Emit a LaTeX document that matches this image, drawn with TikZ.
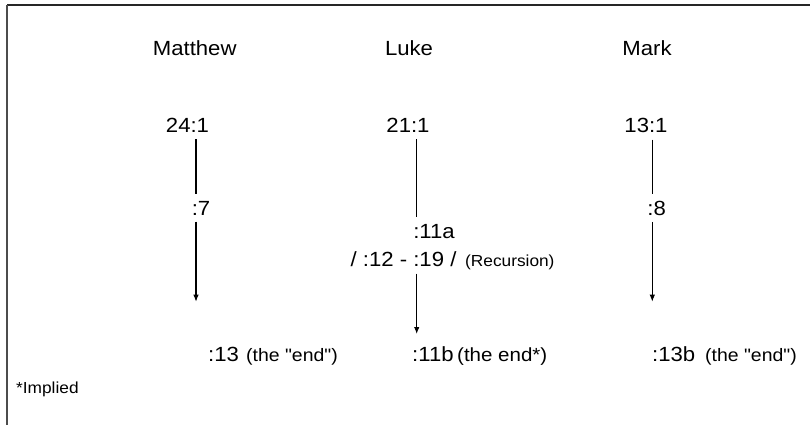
\documentclass[tikz,border=0pt]{standalone}
\usepackage{fontspec}
\setmainfont{Liberation Sans}[FakeStretch=1.08, Ligatures=TeXOff]
\usetikzlibrary{arrows.meta}

\begin{document}
\begin{tikzpicture}[x=1pt,y=-1pt,
  every node/.style={inner xsep=0pt, inner ysep=6.5pt, anchor=base},
  big/.style={font=\fontsize{20.5}{24}\selectfont},
  note/.style={font=\fontsize{16}{19}\selectfont},
  endnote/.style={font=\fontsize{18}{21}\selectfont},
  flow/.style={line width=1.1pt, black},
  flowarrow/.style={flow, -{Latex[length=7pt,width=5.5pt]}}]

  \useasboundingbox (0,0) rectangle (810,425);

  % partial frame: top and left edges
  \draw[line width=2pt, black!85] (7,5) -- (810,5);
  \draw[line width=2.5pt, black!70] (7,5) -- (7,425);

  % column headings
  \node[big] (hmat) at (194.7,55.7) {Matthew};
  \node[big] (hluk) at (409,55.7) {Luke};
  \node[big] (hmar) at (647,55.7) {Mark};

  % Matthew column
  \node[big] (m1) at (187.5,132.7) {24:1};
  \node[big] (m7) at (201,215) {:7};
  \coordinate (mt) at (196,301.7);
  \node[big, anchor=base west] (m13) at (208,361) {:13};
  \node[endnote, anchor=base west] (m13n) at (246,361) {(the "end")};

  % Luke column
  \node[big] (l1) at (408,132.7) {21:1};
  \node[big] (l11a) at (434,238) {:11a};
  \node[big] (lrec) at (403.5,266.7) {/ :12 - :19 /};
  \node[note, anchor=base west] (lrecn) at (465,266.7) {(Recursion)};
  \coordinate (lt) at (416.7,334);
  \node[big, anchor=base west] (l11b) at (412,361) {:11b};
  \node[endnote, anchor=base west, font=\fontsize{19}{22}\selectfont] (l11bn) at (457,361) {(the end*)};

  % Mark column
  \node[big] (k1) at (646,132.7) {13:1};
  \node[big] (k8) at (656.7,215) {:8};
  \coordinate (kt) at (652.3,301.7);
  \node[big, anchor=base west] (k13b) at (652,361) {:13b};
  \node[endnote, anchor=base west] (k13bn) at (705,361) {(the "end")};

  % footnote
  \node[note, anchor=base west] (foot) at (16,393) {*Implied};

  % connectors
  \draw[flow] (m1.south -| mt) -- (m7.north -| mt);
  \draw[flowarrow] (m7.south -| mt) -- (mt);

  \draw[flow] (l1.south -| lt) -- (l11a.north -| lt);
  \draw[flowarrow] (lrec.south -| lt) -- (lt);

  \draw[flow] (k1.south -| kt) -- (k8.north -| kt);
  \draw[flowarrow] (k8.south -| kt) -- (kt);
\end{tikzpicture}
\end{document}
